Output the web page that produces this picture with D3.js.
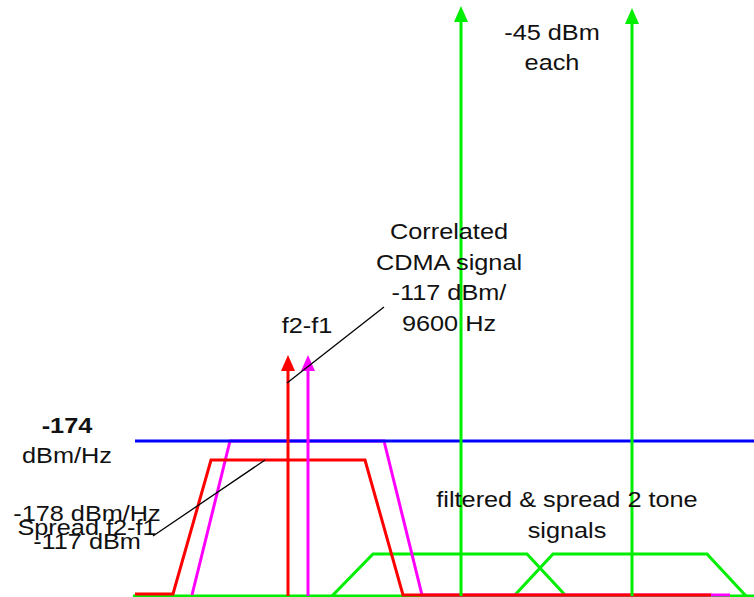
<!DOCTYPE html>
<html>
<head>
<meta charset="utf-8">
<script src="https://d3js.org/d3.v7.min.js"></script>
<style>
  body { margin: 0; background: #fff; }
  text { font-family: "Liberation Sans", Arial, sans-serif; fill: #111; }
</style>
</head>
<body>
<div id="chart"></div>
<script>
// frequency (x) and level (y) in arbitrary diagram units
const floorLine = [[133, 0], [754, 0]];
const noiseFloor = [[135, 155], [754, 155]];
const redSpread = [[135, 2], [173, 2], [211, 136], [365, 136], [403, 1], [711, 1]];
const magentaSpread = [[192, 1], [230, 155], [384, 155], [422, 1], [730, 1]];
const toneSpreadA = [[332, 0], [373, 42], [527, 42], [566, 0]];
const toneSpreadB = [[514, 0], [553, 42], [707, 42], [746, 0]];

const arrowFreqs = [288, 308, 461, 632];
const arrowLevels = [241, 241, 590, 588];
const arrowColors = ["#ff0000", "#ff00ff", "#00ee00", "#00ee00"];

const leaders = [
  [[384, 289], [287, 213]],
  [[153, 60], [265, 136]]
];

const labels = [
  {lines: ["-174", "dBm/Hz"], f: 67, lv: 163, gap: 30, bold: true},
  {lines: ["-178 dBm/Hz", "Spread f2-f1", "-117 dBm"], f: 87, lv: 75, gap: 14},
  {lines: ["Correlated", "CDMA signal", "-117 dBm/", "9600 Hz"], f: 449, lv: 357, gap: 30.7},
  {lines: ["f2-f1"], f: 307, lv: 263, gap: 30},
  {lines: ["-45 dBm", "each"], f: 552, lv: 556, gap: 30},
  {lines: ["filtered & spread 2 tone", "signals"], f: 567, lv: 89, gap: 31}
];

const width = 754, height = 597;
const x = d3.scaleLinear().domain([0, 754]).range([0, 754]);
const y = d3.scaleLinear().domain([0, 590]).range([596, 6]);

const svg = d3.select("#chart").append("svg")
  .attr("width", width).attr("height", height);

const line = d3.line().x(d => x(d[0])).y(d => y(d[1]));

function path(pts, color, w) {
  svg.append("path").attr("d", line(pts))
    .attr("fill", "none").attr("stroke", color)
    .attr("stroke-width", w).attr("stroke-linejoin", "miter");
}

path(floorLine, "#00ee00", 3);
path(toneSpreadA, "#00ee00", 3);
path(toneSpreadB, "#00ee00", 3);
path(magentaSpread, "#ff00ff", 3);
path(redSpread, "#ff0000", 3);
path(noiseFloor, "#0000ff", 3);

// arrows
arrowFreqs.forEach((f, i) => {
  const tip = y(arrowLevels[i]);
  svg.append("line")
    .attr("x1", x(f)).attr("x2", x(f))
    .attr("y1", y(0)).attr("y2", tip + 12)
    .attr("stroke", arrowColors[i]).attr("stroke-width", 3);
  svg.append("path")
    .attr("d", `M${x(f)},${tip} L${x(f) - 7},${tip + 16} L${x(f) + 7},${tip + 16} Z`)
    .attr("fill", arrowColors[i]);
});

leaders.forEach(l => path(l, "#000", 1.3));

// text is a little wide in the original, so stretch it sideways
labels.forEach(lb => {
  const g = svg.append("g")
    .attr("transform", `translate(${x(lb.f)},${y(lb.lv)}) scale(1.15,1)`);
  lb.lines.forEach((s, i) => {
    g.append("text")
      .attr("text-anchor", "middle")
      .attr("font-size", 22)
      .attr("font-weight", lb.bold && i == 0 ? "bold" : "normal")
      .attr("y", i * lb.gap)
      .text(s);
  });
});
</script>
</body>
</html>
